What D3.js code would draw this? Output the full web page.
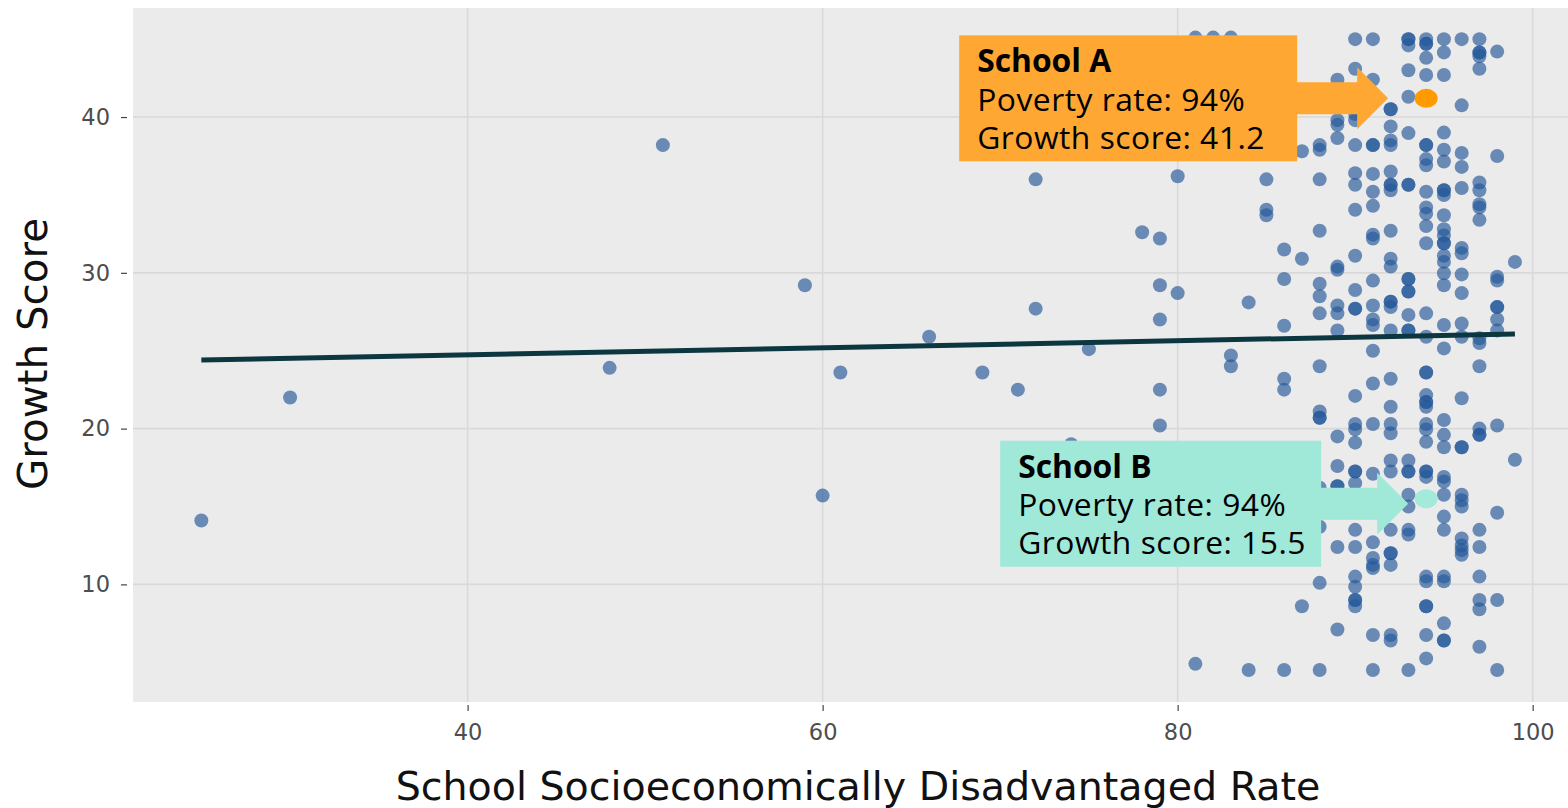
<!DOCTYPE html>
<html>
<head>
<meta charset="utf-8">
<script src="https://cdn.jsdelivr.net/npm/d3@7"></script>
<style>
  html, body { margin: 0; padding: 0; background: #ffffff; }
  svg { display: block; }
</style>
</head>
<body>
<svg id="chart" width="1568" height="808"></svg>
<script>
// ---------------- DATA ----------------
// poverty rate (x) levels and growth scores (y) of the schools at each level
const povertyLevels = [25, 30, 48, 51, 59, 60, 61, 66, 69, 71, 72, 74, 75, 78, 79, 80, 81, 82, 83, 84, 85, 86, 87, 88, 89, 90, 91, 92, 93, 94, 95, 96, 97, 98, 99];
const growthByLevel = [
  [14.1],
  [22.0],
  [23.9],
  [38.2],
  [29.2],
  [15.7],
  [23.6],
  [25.9],
  [23.6],
  [22.5],
  [27.7, 36.0],
  [19.0],
  [25.1],
  [32.6],
  [32.2, 29.2, 27.0, 22.5, 20.2],
  [36.2, 28.7],
  [45.1, 4.9],
  [45.1],
  [45.1, 24.7, 24.0],
  [28.1, 4.5],
  [36.0, 34.05, 33.7],
  [31.5, 29.6, 26.6, 23.2, 22.5, 4.5],
  [37.8, 30.9, 8.6],
  [38.2, 37.9, 36.0, 32.7, 29.3, 28.5, 27.4, 24.0, 21.1, 20.7, 20.7, 16.2, 13.7, 10.1, 4.5],
  [42.4, 39.8, 39.5, 38.65, 30.4, 30.2, 27.9, 27.4, 26.3, 19.5, 17.6, 16.3, 16.3, 12.4, 7.1],
  [45.0, 43.1, 40.2, 39.8, 38.2, 36.4, 35.65, 34.05, 31.1, 28.9, 27.7, 27.7, 22.1, 20.3, 19.95, 19.1, 17.25, 17.25, 16.5, 13.5, 12.4, 10.5, 9.85, 9.0, 9.0, 8.6],
  [45.0, 42.4, 38.2, 38.2, 36.35, 35.2, 34.3, 32.45, 32.2, 29.5, 27.9, 27.0, 26.65, 25.0, 22.9, 20.3, 17.1, 12.7, 11.7, 11.25, 11.05, 6.75, 4.5],
  [40.5, 40.5, 39.4, 38.5, 38.2, 36.5, 35.65, 35.65, 35.3, 32.7, 30.9, 30.4, 28.15, 28.15, 27.8, 26.3, 23.2, 21.4, 20.3, 19.7, 17.95, 17.25, 13.5, 12.0, 12.0, 11.25, 6.75, 6.4],
  [45.0, 45.0, 44.6, 43.0, 41.3, 38.97, 35.65, 35.65, 29.6, 29.6, 28.8, 28.8, 27.3, 26.3, 26.3, 17.95, 17.25, 17.25, 15.75, 15.0, 13.5, 13.2, 4.5],
  [45.0, 44.7, 44.7, 43.8, 42.7, 38.2, 38.2, 37.3, 36.9, 35.2, 34.2, 33.8, 33.0, 31.9, 27.4, 25.9, 23.6, 23.6, 22.15, 21.7, 21.7, 21.4, 20.3, 19.95, 19.15, 17.25, 17.25, 16.9, 10.5, 10.2, 8.6, 8.6, 6.75, 5.25],
  [45.0, 44.15, 42.7, 39.0, 37.9, 37.15, 35.3, 35.3, 35.0, 33.7, 32.8, 32.4, 31.9, 31.9, 31.1, 30.7, 29.97, 29.2, 26.65, 25.15, 20.55, 19.6, 18.8, 16.9, 16.6, 15.75, 14.35, 13.5, 10.5, 10.2, 7.5, 6.4, 6.4],
  [45.0, 40.75, 37.7, 36.8, 35.45, 31.6, 31.25, 29.9, 28.7, 26.75, 25.9, 21.95, 18.8, 18.8, 15.75, 15.4, 15.0, 12.95, 12.5, 12.2, 11.9],
  [45.0, 44.15, 44.15, 43.9, 43.1, 35.8, 35.3, 34.4, 34.2, 33.4, 25.8, 25.5, 24.0, 20.0, 19.6, 19.6, 13.5, 12.4, 10.5, 9.0, 8.4, 6.0],
  [44.2, 37.5, 29.75, 29.5, 27.8, 27.8, 27.0, 26.3, 20.2, 14.6, 9.0, 4.5],
  [30.7, 18.0]
];

// fitted trend line (end points)
const trendPoverty = [25, 99];
const trendGrowth = [24.4, 26.07];

// highlighted schools
const highlightNames = ["School A", "School B"];
const highlightPoverty = [94, 94];
const highlightGrowth = [41.2, 15.5];

// axes
const xTicks = [40, 60, 80, 100];
const yTicks = [10, 20, 30, 40];
const xDomain = [21.15, 101.99];
const yDomain = [2.45, 47.0];
const xTitle = "School Socioeconomically Disadvantaged Rate";
const yTitle = "Growth Score";

// ---------------- CHART ----------------
const svg = d3.select("#chart");
const P = { left: 133, right: 1568, top: 8, bottom: 702 };

const x = d3.scaleLinear().domain(xDomain).range([P.left, P.right]);
const y = d3.scaleLinear().domain(yDomain).range([P.bottom, P.top]);

svg.append("rect").attr("x", P.left).attr("y", P.top)
  .attr("width", P.right - P.left).attr("height", P.bottom - P.top)
  .attr("fill", "#ebebeb");

svg.append("defs").append("clipPath").attr("id", "plotclip")
  .append("rect").attr("x", P.left).attr("y", P.top)
  .attr("width", P.right - P.left).attr("height", P.bottom - P.top);

// grid
const grid = svg.append("g");
grid.selectAll("line.gx").data(xTicks).join("line")
  .attr("x1", d => x(d)).attr("x2", d => x(d))
  .attr("y1", P.top).attr("y2", P.bottom)
  .attr("stroke", "#d9d9d9").attr("stroke-width", 1.6);
grid.selectAll("line.gy").data(yTicks).join("line")
  .attr("y1", d => y(d)).attr("y2", d => y(d))
  .attr("x1", P.left).attr("x2", P.right)
  .attr("stroke", "#d9d9d9").attr("stroke-width", 1.6);

// axes
const xAxis = svg.append("g").attr("transform", `translate(0,${P.bottom + 3})`)
  .call(d3.axisBottom(x).tickValues(xTicks).tickSize(6).tickPadding(13));
const yAxis = svg.append("g").attr("transform", `translate(${P.left - 6},0)`)
  .call(d3.axisLeft(y).tickValues(yTicks).tickSize(6).tickPadding(11));
[xAxis, yAxis].forEach(a => {
  a.select(".domain").remove();
  a.selectAll(".tick line").attr("stroke", "#444").attr("stroke-width", 1.2);
  a.selectAll(".tick text").attr("fill", "#4d4d4d")
    .style("font-family", "'DejaVu Sans', Verdana, sans-serif").style("font-size", "22.5px");
});

// axis titles
function fitText(sel, target) {
  const w = sel.node().getComputedTextLength();
  const fs = parseFloat(sel.style("font-size"));
  sel.style("font-size", (fs * target / w).toFixed(2) + "px");
}
const xt = svg.append("text").attr("x", 858).attr("y", 800)
  .attr("text-anchor", "middle").attr("fill", "#111")
  .style("font-family", "'DejaVu Sans', Verdana, sans-serif").style("font-size", "36px")
  .text(xTitle);
fitText(xt, 925);
const yt = svg.append("text").attr("transform", "translate(47,354) rotate(-90)")
  .attr("text-anchor", "middle").attr("fill", "#111")
  .style("font-family", "'DejaVu Sans', Verdana, sans-serif").style("font-size", "36px")
  .text(yTitle);
fitText(yt, 272);

// points
const points = [];
povertyLevels.forEach((p, i) => growthByLevel[i].forEach(g => points.push({ p, g })));

const plot = svg.append("g").attr("clip-path", "url(#plotclip)");
plot.selectAll("circle.pt").data(points).join("circle")
  .attr("class", "pt")
  .attr("cx", d => x(d.p)).attr("cy", d => y(d.g)).attr("r", 7)
  .attr("fill", "#24589a").attr("fill-opacity", 0.66);

// trend line
plot.append("line")
  .attr("x1", x(trendPoverty[0])).attr("y1", y(trendGrowth[0]))
  .attr("x2", x(trendPoverty[1])).attr("y2", y(trendGrowth[1]))
  .attr("stroke", "#0c3640").attr("stroke-width", 5);

// highlighted schools + callouts
const hlDot = ["#ff9a00", "#a3eadb"];
const hlBox = ["#ffa733", "#a0e8d8"];
const boxW = [338, 321];
const boxOff = [[-467, -63], [-426, -58]];   // box top-left relative to the point
const arrowDy = [0, 5];
const arrowTipOff = [-38, -18];

highlightNames.forEach((name, i) => {
  const px = x(highlightPoverty[i]), py = y(highlightGrowth[i]);
  const bx = px + boxOff[i][0], by = py + boxOff[i][1];
  const bw = boxW[i], bh = 126;
  const g = svg.append("g");
  g.append("rect").attr("x", bx).attr("y", by).attr("width", bw).attr("height", bh)
    .attr("fill", hlBox[i]);
  const cy = py + arrowDy[i];
  const tipX = px + arrowTipOff[i];
  const headX = tipX - 31;
  g.append("path").attr("fill", hlBox[i]).attr("d",
    `M${bx + bw - 1},${cy - 16} L${headX},${cy - 16} L${headX},${cy - 31} L${tipX},${cy}` +
    ` L${headX},${cy + 31} L${headX},${cy + 16} L${bx + bw - 1},${cy + 16} Z`);
  const lines = [name, "Poverty rate: " + highlightPoverty[i] + "%", "Growth score: " + highlightGrowth[i].toFixed(1)];
  const txt = g.append("text").attr("x", bx + 18).attr("y", by + 37)
    .attr("fill", "#000")
    .style("font-family", "'Open Sans', 'Noto Sans', sans-serif")
    .style("font-size", "31.8px");
  lines.forEach((t, k) => {
    txt.append("tspan").attr("x", bx + 18).attr("y", by + 37 + k * 38.2)
      .style("font-weight", k === 0 ? 700 : 400)
      .style("letter-spacing", k === 0 ? "0px" : "0.5px")
      .text(t);
  });
  svg.append("ellipse").attr("cx", px).attr("cy", py).attr("rx", 11.5).attr("ry", 9.5)
    .attr("fill", hlDot[i]);
});
</script>
</body>
</html>
